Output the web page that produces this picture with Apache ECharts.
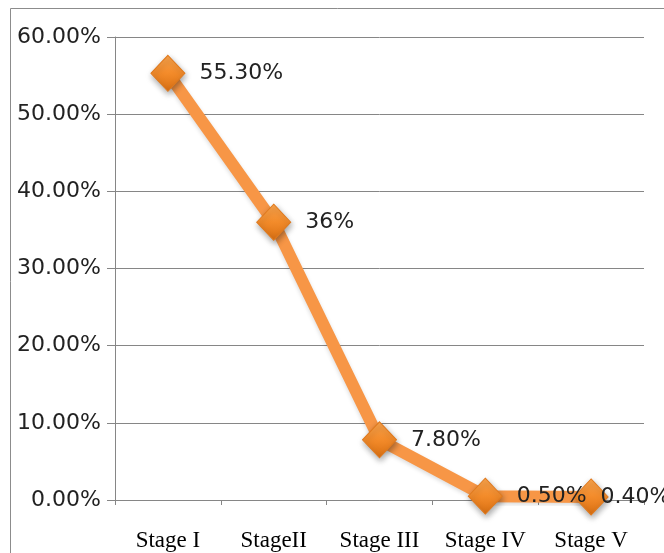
<!DOCTYPE html>
<html><head><meta charset="utf-8">
<script src="https://cdn.jsdelivr.net/npm/echarts@6/dist/echarts.min.js"></script>
<style>html,body{margin:0;padding:0;background:#fff}#c{width:664px;height:553px}</style>
</head><body><div id="c"></div>
<script>
const categories = ['Stage I', 'StageII', 'Stage III', 'Stage IV', 'Stage V'];
const values = [55.3, 36, 7.8, 0.5, 0.4];
const pointLabels = ['55.30%', '36%', '7.80%', '0.50%', '0.40%'];
const yTicks = [0, 10, 20, 30, 40, 50, 60];

const chart = echarts.init(document.getElementById('c'), null, {renderer: 'canvas'});
chart.setOption({
  animation: false,
  graphic: [{
    type: 'rect', shape: {x: 10.5, y: 8.5, width: 680, height: 580},
    style: {fill: 'none', stroke: '#8c8c8c', lineWidth: 1}, z: -1
  }],
  grid: {left: 115, top: 37, right: 20, bottom: 53},
  xAxis: {
    type: 'category', data: categories, boundaryGap: true,
    axisLine: {lineStyle: {color: '#868686', width: 1}},
    axisTick: {show: true, length: 5, lineStyle: {color: '#868686'}},
    axisLabel: {interval: 0, hideOverlap: false, margin: 29, fontFamily: 'Liberation Serif', fontSize: 23, color: '#000'}
  },
  yAxis: {
    type: 'value', min: yTicks[0], max: yTicks[yTicks.length - 1], interval: 10,
    axisLine: {show: true, lineStyle: {color: '#868686', width: 1}},
    axisTick: {show: true, inside: false, length: 8, lineStyle: {color: '#868686'}},
    splitLine: {lineStyle: {color: '#868686', width: 1}},
    axisLabel: {margin: 14, fontFamily: 'DejaVu Sans', fontSize: 22, color: '#222',
      formatter: v => v.toFixed(2) + '%'}
  },
  series: [{
    type: 'line',
    data: values.map((v, i) => i === values.length - 1 ? {value: v, label: {offset: [-22, 0]}} : v),
    lineStyle: {color: '#F79646', width: 12, shadowColor: 'rgba(0,0,0,0.15)', shadowBlur: 4, shadowOffsetY: 2},
    symbol: 'diamond', symbolSize: [34, 36],
    itemStyle: {
      color: new echarts.graphic.LinearGradient(0, 0, 0, 1, [
        {offset: 0, color: '#FBA54E'}, {offset: 0.5, color: '#F38B2A'}, {offset: 1, color: '#D96F12'}
      ]),
      borderColor: '#E07A1E', borderWidth: 1,
      shadowColor: 'rgba(0,0,0,0.35)', shadowBlur: 6, shadowOffsetX: 1, shadowOffsetY: 3
    },
    label: {
      show: true, position: 'right', distance: 14,
      fontFamily: 'DejaVu Sans', fontSize: 22, color: '#222',
      formatter: p => pointLabels[p.dataIndex]
    }
  }]
});
</script></body></html>
